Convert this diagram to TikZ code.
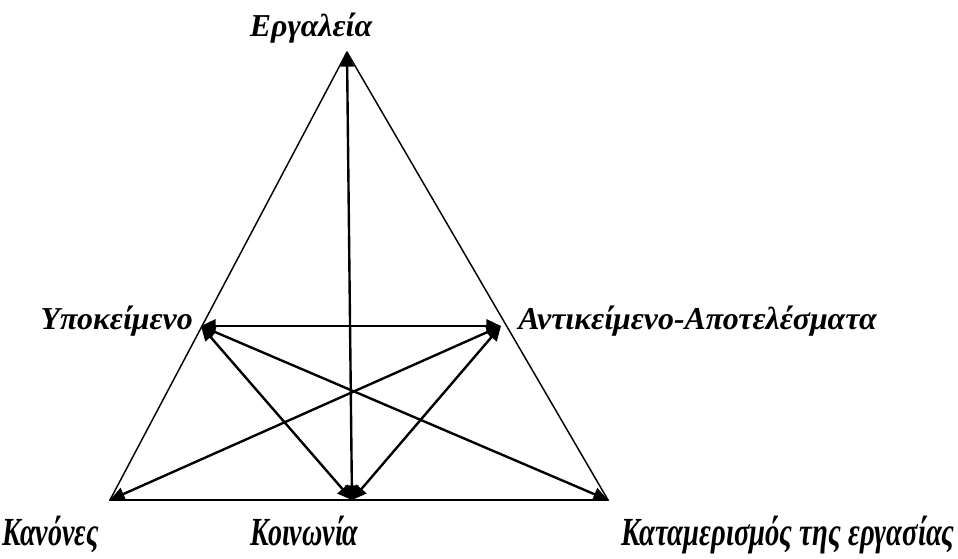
\documentclass[tikz,border=0pt]{standalone}
\usepackage{fontspec}
\setmainfont{Liberation Serif}
\usepackage{tkz-euclide}
\usetikzlibrary{arrows.meta,calc}

\tikzset{
  lbl/.style={font=\fontsize{24}{28}\selectfont\bfseries\itshape,inner sep=0pt},
  twoway/.style={{Triangle[length=11pt,width=10pt]}-{Triangle[length=11pt,width=10pt]},line width=1.8pt},
}

\begin{document}
\begin{tikzpicture}[scale=.2646]
\useasboundingbox (0,0) rectangle (95.8,55.8);
\tkzSetUpLine[line width=1pt,color=black]

\tkzDefPoints{34.7/50.6/T,11.0/5.8/L,60.8/5.8/R,35.2/5.8/C,20.1/23.2/Y,50.1/23.2/A}

% triangle
\tkzDrawPolygon[line width=1.1pt](T,L,R)
\tkzDrawSegment[line width=1.8pt](L,R)

% arrows
\tkzDrawSegments[twoway](T,C Y,A Y,R Y,C A,L A,C)

\node[lbl,anchor=base] (tools) at (31.1,52.1) {Εργαλεία};
\node[lbl,anchor=base east] (subj) at (19.3,22.8) {Υποκείμενο};
\node[lbl,anchor=base west] (obj) at (51.8,22.8) {Αντικείμενο-Αποτελέσματα};
\node[lbl,anchor=base west] (rules) at (0.2,1.3) {\scalebox{.88}[1.25]{Κανόνες}};
\node[lbl,anchor=base west] (comm) at (25.0,1.3) {\scalebox{.88}[1.25]{Κοινωνία}};
\node[lbl,anchor=base east] (divis) at (95.5,1.3) {\scalebox{.9}[1.25]{Καταμερισμός της εργασίας}};

\end{tikzpicture}
\end{document}
